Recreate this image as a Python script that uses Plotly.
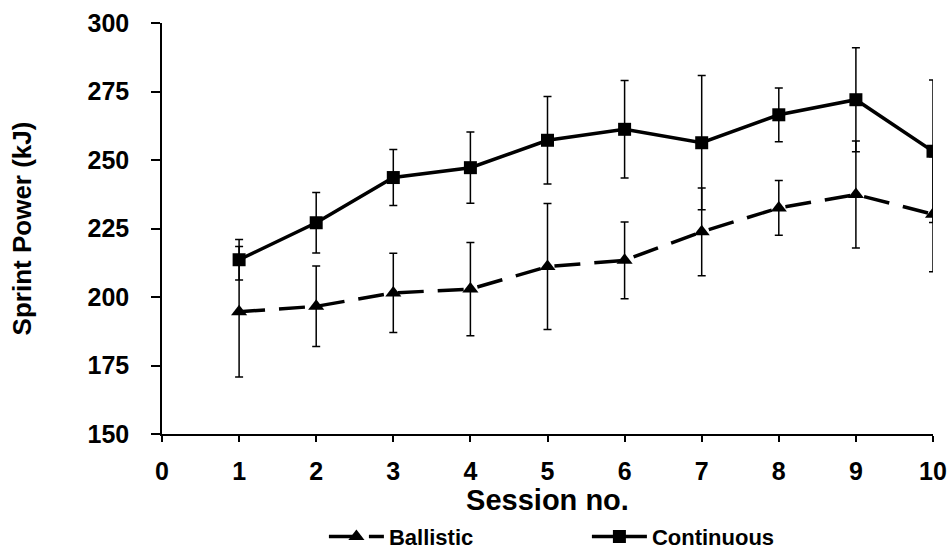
import plotly.graph_objects as go

sessions = [1, 2, 3, 4, 5, 6, 7, 8, 9, 10]
ballistic = [194.6, 196.6, 201.5, 202.9, 211.1, 213.4, 223.8, 232.5, 237.4, 230.2]
ballistic_err = [23.8, 14.7, 14.5, 17.0, 23.0, 14.0, 16.0, 10.0, 19.5, 21.0]
continuous = [213.6, 227.1, 243.6, 247.2, 257.2, 261.2, 256.3, 266.5, 272.0, 253.2]
continuous_err = [7.4, 11.0, 10.2, 13.0, 16.0, 17.8, 24.5, 9.8, 19.0, 26.0]

FONT = "Liberation Sans, Arial, sans-serif"

fig = go.Figure()
fig.add_trace(go.Scatter(
    x=sessions, y=ballistic, name="Ballistic", mode="lines+markers",
    line=dict(color="black", width=3.5, dash="26px,14px"),
    marker=dict(symbol="triangle-up", size=14, color="black"),
    error_y=dict(type="data", array=ballistic_err, visible=True,
                 color="black", thickness=1.5, width=4),
))
fig.add_trace(go.Scatter(
    x=sessions, y=continuous, name="Continuous", mode="lines+markers",
    line=dict(color="black", width=3.5),
    marker=dict(symbol="square", size=13, color="black"),
    error_y=dict(type="data", array=continuous_err, visible=True,
                 color="black", thickness=1.5, width=4),
))

fig.update_layout(
    width=950, height=550,
    margin=dict(l=162, r=17, t=23, b=116, autoexpand=False),
    paper_bgcolor="white", plot_bgcolor="white",
    font=dict(family=FONT, color="black", size=24),
    showlegend=True,
    legend=dict(orientation="h", x=0.21, xanchor="left",
                yref="container", y=0.024, yanchor="middle",
                itemwidth=55, entrywidth=193, entrywidthmode="pixels",
                tracegroupgap=0, itemclick=False,
                font=dict(family=FONT, size=22, color="black", weight="bold")),
)
fig.update_xaxes(
    range=[0, 10], tickmode="array", tickvals=list(range(0, 11)),
    showline=True, linecolor="black", linewidth=1.5, showgrid=False, zeroline=False,
    ticks="outside", ticklen=6, tickcolor="black", tickwidth=1.5,
    tickfont=dict(family=FONT, size=25, weight="bold"),
    ticklabelstandoff=8,
    title=dict(text="Session no.", font=dict(family=FONT, size=29, weight="bold"), standoff=5),
)
fig.update_yaxes(
    range=[150, 300], tickmode="array", tickvals=[150, 175, 200, 225, 250, 275, 300],
    showline=True, linecolor="black", linewidth=1.5, showgrid=False, zeroline=False,
    ticks="outside", ticklen=9, tickcolor="black", tickwidth=1.5,
    tickfont=dict(family=FONT, size=25, weight="bold"),
    ticklabelstandoff=17,
    title=dict(text="Sprint Power (kJ)", font=dict(family=FONT, size=26, weight="bold"), standoff=48),
)

fig.write_html("out.html", config={"displayModeBar": False},
               post_script="document.body.style.margin='0px';")
